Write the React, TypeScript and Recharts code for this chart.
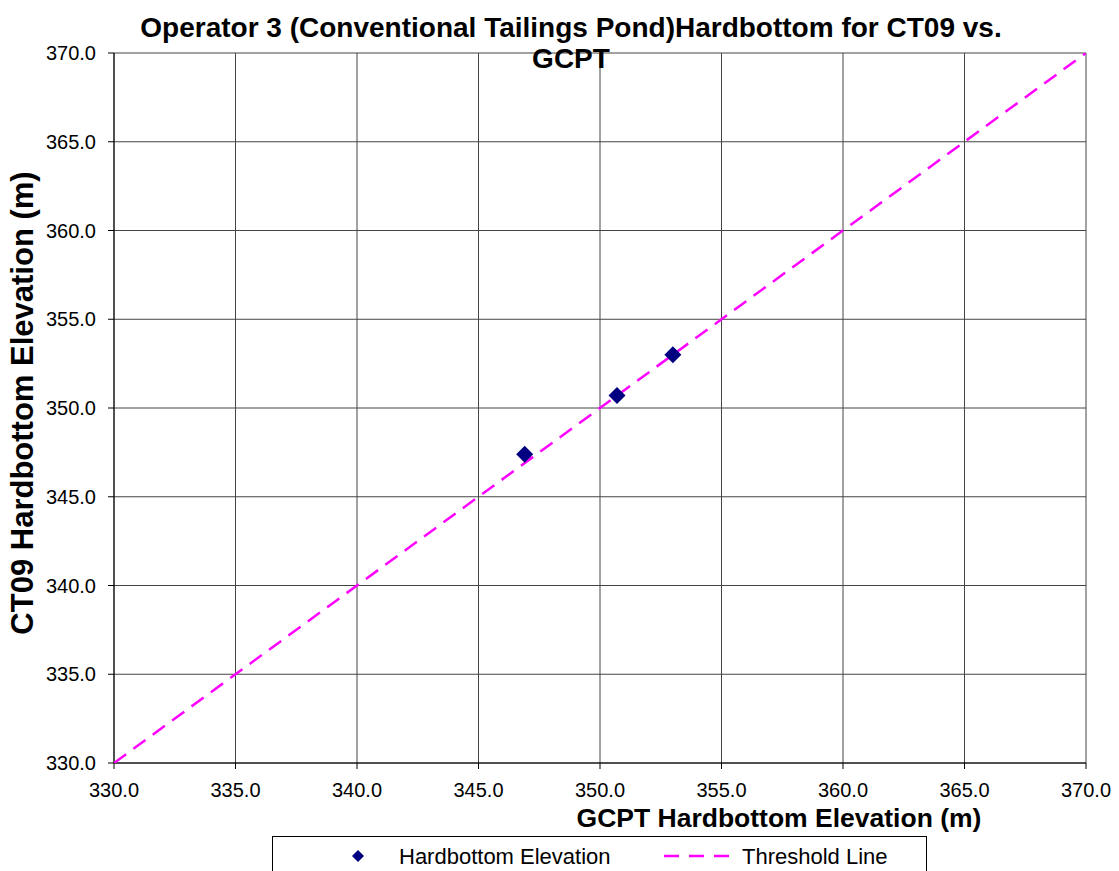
import React from 'react';
import {
  ScatterChart,
  Scatter,
  XAxis,
  YAxis,
  CartesianGrid,
} from 'recharts';

const FONT = 'Arial, "Liberation Sans", sans-serif';

const TICKS = [330, 335, 340, 345, 350, 355, 360, 365, 370];

const gcptElev = [346.9, 350.7, 353.0];
const ct09Elev = [347.4, 350.7, 353.0];

const thresholdX = [330, 370];
const thresholdY = [330, 370];

const points = gcptElev.map((x, i) => ({ x, y: ct09Elev[i] }));
const threshold = thresholdX.map((x, i) => ({ x, y: thresholdY[i] }));

const Diamond = (props: any) => {
  const { cx, cy } = props;
  const r = 8.5;
  return (
    <polygon
      points={`${cx},${cy - r} ${cx + r},${cy} ${cx},${cy + r} ${cx - r},${cy}`}
      fill="#000080"
    />
  );
};

const tickStyle = { fill: '#000', fontSize: 20, fontFamily: FONT };

export default function App() {
  return (
    <div style={{ position: 'absolute', left: 0, top: 0, width: 1119, height: 871, background: '#fff', overflow: 'hidden' }}>
      <ScatterChart width={1119} height={871} margin={{ top: 53, right: 33, bottom: 0, left: 0 }}>
        <CartesianGrid stroke="#444" strokeWidth={1} />
        <XAxis
          type="number"
          dataKey="x"
          domain={[330, 370]}
          ticks={TICKS}
          tickFormatter={(v: number) => v.toFixed(1)}
          tick={tickStyle}
          tickSize={6}
          tickMargin={14}
          axisLine={{ stroke: '#000' }}
          tickLine={{ stroke: '#000' }}
          height={108}
          allowDataOverflow
        />
        <YAxis
          type="number"
          dataKey="y"
          domain={[330, 370]}
          ticks={TICKS}
          tickFormatter={(v: number) => v.toFixed(1)}
          tick={tickStyle}
          tickSize={6}
          tickMargin={12}
          axisLine={{ stroke: '#000' }}
          tickLine={{ stroke: '#000' }}
          width={114}
          allowDataOverflow
        />
        <Scatter
          data={threshold}
          line={{ stroke: '#ff00ff', strokeWidth: 2.5, strokeDasharray: '15 9' }}
          shape={() => null}
          isAnimationActive={false}
        />
        <Scatter data={points} shape={Diamond} isAnimationActive={false} />
      </ScatterChart>

      {/* titles drawn on top, the second title line overlaps the plot like the original */}
      <svg width={1119} height={871} style={{ position: 'absolute', left: 0, top: 0, pointerEvents: 'none' }}>
        <g fontFamily={FONT} fontWeight="bold" fill="#000">
          <text x={571} y={37} fontSize={28} textAnchor="middle">
            Operator 3 (Conventional Tailings Pond)Hardbottom for CT09 vs.
          </text>
          <text x={571} y={68} fontSize={28} textAnchor="middle">
            GCPT
          </text>
          <text x={779} y={827} fontSize={26.5} textAnchor="middle">
            GCPT Hardbottom Elevation (m)
          </text>
          <text x={33} y={403} fontSize={31} textAnchor="middle" transform="rotate(-90 33 403)">
            CT09 Hardbottom Elevation (m)
          </text>
        </g>
      </svg>

      <div
        style={{
          position: 'absolute',
          left: 272,
          top: 836,
          width: 655,
          height: 40,
          border: '1px solid #000',
          boxSizing: 'border-box',
          background: '#fff',
        }}
      >
        <svg width={655} height={40} style={{ position: 'absolute', left: 0, top: 0 }}>
          <polygon points="85,13 91,19 85,25 79,19" fill="#000080" />
          <text x={126} y={27} fontSize={22} fontFamily={FONT} fill="#000">
            Hardbottom Elevation
          </text>
          <line x1={391} y1={19} x2={463} y2={19} stroke="#ff00ff" strokeWidth={2.5} strokeDasharray="15 10" />
          <text x={469} y={27} fontSize={22} fontFamily={FONT} fill="#000">
            Threshold Line
          </text>
        </svg>
      </div>
    </div>
  );
}
